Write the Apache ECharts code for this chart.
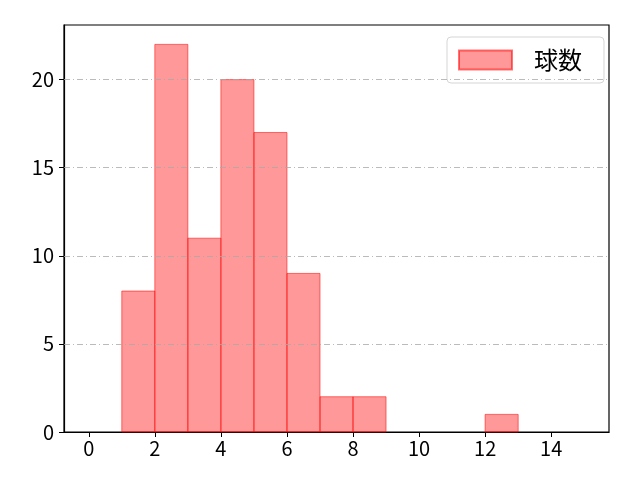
<!DOCTYPE html>
<html><head><meta charset="utf-8">
<script src="https://cdn.jsdelivr.net/npm/echarts@6/dist/echarts.min.js"></script>
<style>html,body{margin:0;padding:0;background:#fff}#c{width:640px;height:480px}</style>
</head><body><div id="c"></div>
<script>
var binStarts = [1, 2, 3, 4, 5, 6, 7, 8, 12];
var binEnds   = [2, 3, 4, 5, 6, 7, 8, 9, 13];
var counts    = [8, 22, 11, 20, 17, 9, 2, 2, 1];
var xTicks = [0, 2, 4, 6, 8, 10, 12, 14];
var yTicks = [0, 5, 10, 15, 20];
var seriesName = '球数';

var font = '"Noto Sans CJK JP", "DejaVu Sans", sans-serif';
var data = binStarts.map(function (s, i) { return [s, binEnds[i], counts[i]]; });
var chart = echarts.init(document.getElementById('c'));
chart.setOption({
  animation: false,
  grid: { left: 64, right: 31, top: 25, bottom: 48, show: true, borderColor: '#000', borderWidth: 1.2 },
  xAxis: {
    type: 'value', min: -0.75, max: 15.75,
    axisLine: { show: true, onZero: false, lineStyle: { color: '#000', width: 1.2 } },
    axisTick: { show: true, length: 5, customValues: xTicks, lineStyle: { color: '#000' } },
    axisLabel: { customValues: xTicks, fontSize: 20, color: '#000', fontFamily: font, margin: 6 },
    splitLine: { show: false }
  },
  yAxis: {
    type: 'value', min: 0, max: 23.1,
    axisLine: { show: true, onZero: false, lineStyle: { color: '#000', width: 1.2 } },
    axisTick: { show: true, length: 5, customValues: yTicks, lineStyle: { color: '#000' } },
    axisLabel: { customValues: yTicks, fontSize: 20, color: '#000', fontFamily: font, margin: 10 },
    splitLine: { show: false }
  },
  legend: {
    left: 447, top: 37, itemWidth: 53, itemHeight: 19, itemGap: 10,
    padding: [11, 22, 11, 11],
    borderColor: '#d5d5d5', borderWidth: 1, borderRadius: 4, backgroundColor: 'rgba(255,255,255,0.8)',
    textStyle: { fontSize: 24, lineHeight: 24, color: '#000', fontFamily: font, padding: [0, 0, 0, 17] },
    data: [{ name: seriesName, icon: 'rect' }]
  },
  series: [
    {
      type: 'line', data: [], silent: true,
      markLine: {
        symbol: 'none', silent: true, label: { show: false },
        lineStyle: { color: '#aaaaaa', type: [6, 3, 1, 3], width: 0.8 },
        data: yTicks.filter(function (v) { return v > 0; }).map(function (v) { return { yAxis: v }; })
      }
    },
    {
      name: seriesName, type: 'custom',
      itemStyle: { color: 'rgba(255,0,0,0.4)', borderColor: 'rgba(255,0,0,0.55)', borderWidth: 1 },
      renderItem: function (params, api) {
        var p0 = api.coord([api.value(0), 0]);
        var p1 = api.coord([api.value(1), api.value(2)]);
        return {
          type: 'rect',
          shape: { x: p0[0], y: p1[1], width: p1[0] - p0[0], height: p0[1] - p1[1] },
          style: { fill: 'rgba(255,0,0,0.4)', stroke: 'rgba(255,0,0,0.55)', lineWidth: 1 }
        };
      },
      encode: { x: [0, 1], y: 2 },
      data: data
    }
  ]
});
</script></body></html>
